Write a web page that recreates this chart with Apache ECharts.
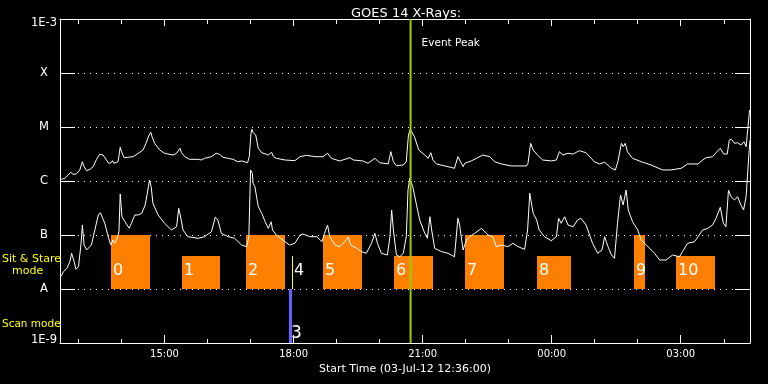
<!DOCTYPE html>
<html>
<head>
<meta charset="utf-8">
<script src="https://cdn.jsdelivr.net/npm/echarts@6/dist/echarts.min.js"></script>
<style>
html,body{margin:0;padding:0;background:#000;}
#chart{width:768px;height:384px;}
</style>
</head>
<body>
<div id="chart"></div>
<script>
// ---- Data (time in decimal hours since 03-Jul-12 00:00) ----
const titleText = 'GOES 14 X-Rays:';
const xAxisTitle = 'Start Time (03-Jul-12 12:36:00)';
const xStart = 12.57, xEnd = 28.61;
const majorHours = [15, 18, 21, 24, 27];
const minorHours = [13, 14, 16, 17, 19, 20, 22, 23, 25, 26, 28];
const yTickLabels = ['1E-9', 'A', 'B', 'C', 'M', 'X', '1E-3'];

// Long channel (1-8 A), values in units of 1e-6 W/m^2
const upperTime = [12.60,12.68,12.76,12.82,12.87,12.95,13.03,13.09,13.13,13.19,13.27,13.34,13.42,13.49,13.57,13.65,13.70,13.76,13.79,13.82,13.92,13.97,14.00,14.06,14.15,14.27,14.39,14.50,14.57,14.63,14.68,14.71,14.77,14.89,15.00,15.20,15.28,15.36,15.39,15.47,15.58,15.78,15.85,15.93,16.09,16.20,16.28,16.36,16.48,16.59,16.70,16.79,16.93,16.97,17.01,17.03,17.06,17.12,17.18,17.26,17.41,17.49,17.53,17.60,17.80,18.03,18.15,18.30,18.50,18.68,18.79,18.88,19.07,19.31,19.39,19.61,19.73,19.89,20.00,20.20,20.26,20.32,20.39,20.55,20.62,20.67,20.71,20.74,20.81,20.91,21.05,21.13,21.19,21.24,21.32,21.52,21.74,21.82,21.86,21.94,21.98,22.13,22.25,22.40,22.56,22.67,22.83,23.06,23.41,23.45,23.51,23.57,23.67,23.79,23.99,24.11,24.18,24.26,24.38,24.50,24.64,24.80,24.99,25.11,25.23,25.39,25.48,25.54,25.62,25.66,25.71,25.76,25.88,26.08,26.31,26.58,26.77,27.01,27.16,27.40,27.51,27.59,27.74,27.82,27.92,28.00,28.08,28.13,28.18,28.25,28.32,28.40,28.47,28.52,28.56,28.60];
const upperValue = [1.07,1.12,1.29,1.45,1.33,1.35,1.60,2.28,1.84,1.55,1.65,1.84,2.52,3.12,3.03,2.45,2.13,2.18,2.38,2.13,2.28,4.21,3.49,2.70,2.75,2.82,3.26,3.75,4.99,6.81,7.98,6.61,4.99,3.75,3.26,3.03,3.26,4.03,3.40,2.82,2.52,2.52,2.45,2.63,2.82,3.26,3.12,2.75,2.63,2.52,2.28,2.35,2.18,2.82,7.64,9.07,7.85,7.11,4.03,3.34,3.03,3.40,2.82,2.63,2.45,2.38,2.82,2.99,2.82,2.82,3.26,2.63,2.35,2.70,2.45,2.35,2.13,2.63,2.18,2.07,3.49,2.28,1.92,1.98,2.28,7.11,9.07,9.46,6.61,3.75,3.03,2.63,3.34,2.45,2.07,1.90,1.72,2.82,2.63,1.84,2.13,2.35,2.63,3.03,2.82,2.28,2.07,1.90,1.90,2.13,4.99,3.75,3.03,2.45,2.35,2.45,3.49,3.03,3.26,3.16,3.64,3.34,2.28,2.07,2.22,1.72,1.60,2.28,4.99,4.32,4.99,3.49,2.63,2.28,1.98,1.60,1.60,1.72,2.07,2.07,2.45,2.70,2.82,3.34,4.03,3.16,3.16,5.75,5.92,4.99,5.12,4.64,5.34,4.32,9.46,20.6];
const upperUnit = 1e-6;

// Short channel (0.5-4 A), values in units of 1e-8 W/m^2
const lowerTime = [12.60,12.65,12.73,12.80,12.84,12.90,12.94,13.00,13.06,13.09,13.13,13.19,13.30,13.38,13.46,13.51,13.61,13.69,13.75,13.80,13.84,13.90,13.94,13.97,14.01,14.08,14.18,14.23,14.31,14.39,14.47,14.55,14.60,14.65,14.69,14.73,14.85,15.00,15.16,15.28,15.33,15.38,15.43,15.54,15.78,15.93,16.09,16.18,16.24,16.32,16.48,16.63,16.79,16.91,16.96,17.00,17.04,17.06,17.10,17.18,17.26,17.34,17.41,17.48,17.51,17.60,17.80,17.91,18.03,18.15,18.22,18.38,18.54,18.66,18.72,18.79,18.84,18.96,19.07,19.19,19.27,19.33,19.47,19.58,19.69,19.81,19.89,19.95,20.04,20.18,20.24,20.28,20.32,20.39,20.47,20.55,20.62,20.66,20.70,20.77,20.85,20.93,21.05,21.11,21.17,21.21,21.28,21.44,21.59,21.74,21.82,21.86,21.94,22.02,22.09,22.21,22.37,22.52,22.63,22.71,22.83,22.98,23.10,23.22,23.37,23.44,23.49,23.57,23.65,23.71,23.83,23.99,24.11,24.16,24.22,24.30,24.38,24.50,24.60,24.68,24.80,24.95,25.07,25.17,25.23,25.31,25.39,25.46,25.53,25.60,25.66,25.73,25.78,25.88,26.00,26.08,26.20,26.39,26.51,26.66,26.81,26.97,27.04,27.16,27.32,27.51,27.63,27.74,27.82,27.92,27.99,28.05,28.11,28.17,28.25,28.32,28.40,28.46,28.52,28.58,28.61];
const lowerValue = [1.74,2.09,2.42,3.20,4.58,3.20,2.32,2.59,7.02,15.3,6.53,5.28,6.53,12.4,23.5,25.9,16.5,9.3,6.53,8.08,7.02,8.69,11.5,57.4,21.8,17.6,13.3,16.5,23.5,23.5,25.2,35.9,59.2,104,78.5,38.7,23.5,16.5,12.4,14.25,31.2,20.4,12.4,9.3,8.69,9.3,11.5,21.3,19.0,10.75,9.3,8.69,6.53,6.07,9.3,160,139,90.7,78.5,33.4,25.2,17.6,13.3,17.6,12.4,10.0,7.5,6.53,7.02,10.0,10.4,9.3,9.3,7.5,10.75,15.3,9.3,6.53,6.07,7.5,9.07,6.53,5.67,4.91,4.58,7.02,10.75,7.02,4.58,4.26,9.3,29.0,12.4,4.26,3.96,4.58,9.3,68.1,112,78.5,38.7,19.0,10.75,8.69,21.8,12.4,5.67,4.91,4.58,3.96,20.4,15.3,5.28,8.08,9.3,10.75,13.3,10.0,9.3,6.07,6.53,6.07,7.02,6.07,5.43,12.4,59.2,25.2,19.0,12.4,9.3,7.85,9.3,20.4,16.5,21.8,15.3,14.25,19.0,20.4,15.3,7.02,4.58,5.28,9.3,6.07,4.26,3.70,16.5,55.1,35.9,68.1,29.0,17.6,12.4,8.08,6.53,4.58,3.44,3.44,4.26,3.96,4.91,7.02,7.5,12.4,13.3,15.3,20.4,32.6,16.5,14.25,68.1,51.2,44.5,51.2,35.9,29.0,51.2,282,570];
const lowerUnit = 1e-8;

// Observations
const obsLabel = [0, 1, 2, 3, 4, 5, 6, 7, 8, 9, 10];
const obsStart = [13.76, 15.41, 16.89, 17.90, 17.97, 18.68, 20.33, 21.98, 23.65, 25.92, 26.90];
const obsEnd   = [14.66, 16.29, 17.79, 17.96, 17.99, 19.58, 21.23, 22.88, 24.45, 26.16, 27.80];
const obsLow   = [1e-8, 1e-8, 1e-8, 1e-9, 1e-8, 1e-8, 1e-8, 1e-8, 1e-8, 1e-8, 1e-8];
const obsHigh  = [1e-7, 4e-8, 1e-7, 1e-8, 4e-8, 1e-7, 4e-8, 1e-7, 4e-8, 1e-7, 4e-8];
const obsColor = ['#ff7f00','#ff7f00','#ff7f00','#6464ff','#ffff00','#ff7f00','#ff7f00','#ff7f00','#ff7f00','#ff7f00','#ff7f00'];

const eventPeakTime = 20.72;
const eventPeakLabel = 'Event Peak';

// ---- Build ----
const FONT = 'DejaVu Sans';
const upperData = upperTime.map((t, i) => [t, upperValue[i] * upperUnit]);
const lowerData = lowerTime.map((t, i) => [t, lowerValue[i] * lowerUnit]);
const obsData = obsStart.map((s, i) => [s, obsEnd[i], obsLow[i], obsHigh[i], obsLabel[i]]);

function hourLabel(v) {
  const h = Math.round(v) % 24;
  return (h < 10 ? '0' : '') + h + ':00';
}
function yLabel(v) {
  const i = Math.round(Math.log10(v)) + 9;
  const t = yTickLabels[i];
  if (i === 6) return '{t|' + t + '}';
  if (i === 0) return '{b|' + t + '}';
  return t;
}

const chart = echarts.init(document.getElementById('chart'), null, {renderer: 'canvas'});
const white = '#ffffff';
const gridBox = {left: 60, right: 18, top: 19, bottom: 41};

chart.setOption({
  backgroundColor: '#000000',
  animation: false,
  title: {
    text: titleText, left: 346, top: 2,
    textStyle: {color: white, fontSize: 13, fontWeight: 'normal', fontFamily: FONT}
  },
  grid: [Object.assign({}, gridBox), Object.assign({}, gridBox)],
  xAxis: [
    {
      type: 'value', gridIndex: 0, position: 'bottom', min: xStart, max: xEnd,
      axisLine: {show: true, lineStyle: {color: white, width: 1}},
      axisTick: {show: true, inside: true, length: 8, customValues: majorHours, lineStyle: {color: white}},
      axisLabel: {show: true, customValues: majorHours, formatter: hourLabel, color: white, fontSize: 10, fontFamily: FONT, margin: 6},
      splitLine: {show: false},
      name: xAxisTitle, nameLocation: 'middle', nameGap: 19,
      nameTextStyle: {color: white, fontSize: 11, fontFamily: FONT}
    },
    {
      type: 'value', gridIndex: 0, position: 'top', min: xStart, max: xEnd,
      axisLine: {show: true, lineStyle: {color: white, width: 1}},
      axisTick: {show: true, inside: true, length: 7, customValues: majorHours, lineStyle: {color: white}},
      axisLabel: {show: false}, splitLine: {show: false}
    },
    {
      type: 'value', gridIndex: 1, position: 'bottom', min: xStart, max: xEnd,
      axisLine: {show: false},
      axisTick: {show: true, inside: true, length: 4, customValues: minorHours, lineStyle: {color: white}},
      axisLabel: {show: false}, splitLine: {show: false}
    },
    {
      type: 'value', gridIndex: 1, position: 'top', min: xStart, max: xEnd,
      axisLine: {show: false},
      axisTick: {show: true, inside: true, length: 5, customValues: minorHours, lineStyle: {color: white}},
      axisLabel: {show: false}, splitLine: {show: false}
    }
  ],
  yAxis: [
    {
      type: 'log', logBase: 10, gridIndex: 0, position: 'left', min: 1e-9, max: 1e-3, interval: 1,
      axisLine: {show: true, lineStyle: {color: white, width: 1}},
      axisTick: {show: true, inside: true, length: 15, lineStyle: {color: white}},
      axisLabel: {
        show: true, formatter: yLabel, color: white, fontSize: 11.5, fontFamily: FONT,
        align: 'center', margin: 16,
        rich: {
          t: {color: white, fontSize: 11.5, fontFamily: FONT, padding: [8, 0, 0, 0]},
          b: {color: white, fontSize: 11.5, fontFamily: FONT, padding: [0, 0, 6, 0]}
        }
      },
      splitLine: {show: true, lineStyle: {color: white, width: 1, type: [1, 5]}}
    },
    {
      type: 'log', logBase: 10, gridIndex: 0, position: 'right', min: 1e-9, max: 1e-3, interval: 1,
      axisLine: {show: true, lineStyle: {color: white, width: 1}},
      axisTick: {show: true, inside: true, length: 15, lineStyle: {color: white}},
      axisLabel: {show: false}, splitLine: {show: false}
    },
    {
      type: 'value', gridIndex: 1, min: 0, max: 1, show: false
    }
  ],
  graphic: [
    {type: 'text', left: 2, top: 254, style: {text: 'Sit & Stare', fill: '#ffff00', font: '11px ' + FONT}},
    {type: 'text', left: 12, top: 266, style: {text: 'mode', fill: '#ffff00', font: '11px ' + FONT}},
    {type: 'text', left: 2, top: 319, style: {text: 'Scan mode', fill: '#ffff00', font: '10.5px ' + FONT}}
  ],
  series: [
    {
      type: 'custom', xAxisIndex: 0, yAxisIndex: 0, z: 1,
      encode: {x: [0, 1], y: [2, 3]},
      data: obsData,
      renderItem: function (params, api) {
        const s = api.value(0), e = api.value(1), lo = api.value(2), hi = api.value(3), lab = api.value(4);
        const p0 = api.coord([s, hi]);
        const p1 = api.coord([e, lo]);
        const x0 = Math.round(p0[0]);
        const w = Math.max(Math.round(p1[0]) - x0, 1);
        const y0 = Math.round(p0[1]);
        const h = Math.round(p1[1]) - y0;
        const scan = lo < 5e-9;
        return {
          type: 'group',
          children: [
            {type: 'rect', shape: {x: x0, y: y0, width: w, height: h}, style: {fill: obsColor[params.dataIndex]}},
            {type: 'text', z2: 10, style: {
              text: String(lab), x: x0 + 2, y: p1[1] - (scan ? 1 : 10),
              verticalAlign: 'bottom', fill: white, font: (scan ? '17px ' : '16px ') + FONT
            }}
          ]
        };
      }
    },
    {
      type: 'line', xAxisIndex: 0, yAxisIndex: 0, z: 3,
      data: upperData, showSymbol: false, symbol: 'none',
      lineStyle: {color: white, width: 1}, silent: true
    },
    {
      type: 'line', xAxisIndex: 0, yAxisIndex: 0, z: 3,
      data: lowerData, showSymbol: false, symbol: 'none',
      lineStyle: {color: white, width: 1}, silent: true
    },
    {
      type: 'custom', xAxisIndex: 0, yAxisIndex: 0, z: 5,
      encode: {x: 0},
      data: [[eventPeakTime]],
      renderItem: function (params, api) {
        const t = api.value(0);
        const top = api.coord([t, 1e-3]);
        const bot = api.coord([t, 1e-9]);
        return {
          type: 'group',
          children: [
            {type: 'line', shape: {x1: top[0], y1: top[1], x2: bot[0], y2: bot[1]}, style: {stroke: '#9acd00', lineWidth: 2}},
            {type: 'text', style: {text: eventPeakLabel, x: top[0] + 11, y: top[1] + 24, verticalAlign: 'middle', fill: white, font: '10.5px ' + FONT}}
          ]
        };
      }
    }
  ]
});
</script>
</body>
</html>
